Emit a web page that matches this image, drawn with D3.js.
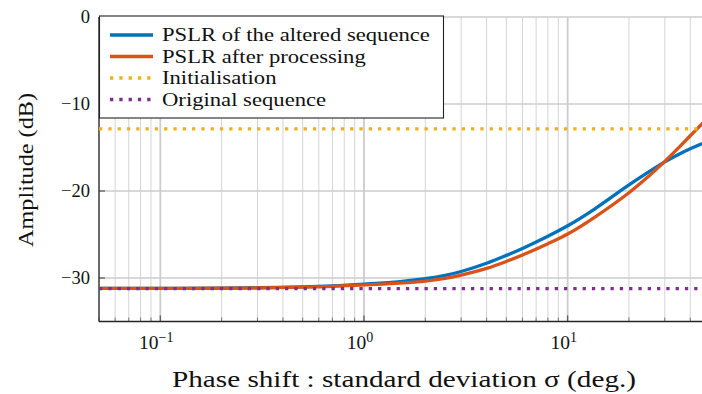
<!DOCTYPE html>
<html><head><meta charset="utf-8">
<script src="https://cdn.jsdelivr.net/npm/d3@7"></script>
<style>body{margin:0;background:#fff}svg{display:block}text{font-family:"Liberation Serif","DejaVu Serif",serif;fill:#111}</style>
</head><body><svg id="c" width="702" height="394"></svg>
<script>
const sigma = [0.05, 0.1, 0.2, 0.3, 0.5, 0.7, 1, 1.5, 2, 2.5, 3, 4, 5, 6, 8, 10, 13.5, 20, 25, 30, 35, 40, 46];
const pslrAltered = [-31.2, -31.2, -31.17, -31.12, -31.02, -30.9, -30.7, -30.42, -30.08, -29.7, -29.25, -28.3, -27.4, -26.6, -25.2, -24.0, -22.1, -19.3, -17.8, -16.65, -15.8, -15.15, -14.55];
const pslrProcessed = [-31.2, -31.2, -31.18, -31.14, -31.06, -30.97, -30.8, -30.6, -30.37, -30.05, -29.68, -28.9, -28.1, -27.35, -26.05, -24.95, -23.05, -20.2, -18.3, -16.6, -15.05, -13.65, -12.2];
const initialisation = -12.85;
const originalSeq = -31.22;
const yTicks = [0, -10, -20, -30];
const xMajor = [0.1, 1, 10];
const xMajorExp = ["−1", "0", "1"];
const legendLabels = ["PSLR of the altered sequence", "PSLR after processing", "Initialisation", "Original sequence"];
const colors = ["#0072BD", "#D95319", "#EDB120", "#7E2F8E"];

const svg = d3.select("#c");
const L = 99, R = 710, T = 17, B = 321.5;
const x = d3.scaleLog().domain([0.05, 50]).range([L, R]);
const y = d3.scaleLinear().domain([-35, 0]).range([B, T]);

const minor = [];
[0.01, 0.1, 1, 10].forEach(d => { for (let k = 2; k <= 9; k++) { const v = d * k; if (v >= 0.05 && v <= 50) minor.push(v); } });

const g = svg.append("g");
g.selectAll(".vmin").data(minor).join("line")
  .attr("x1", d => x(d)).attr("x2", d => x(d)).attr("y1", T).attr("y2", B)
  .attr("stroke", "#d4d4d4").attr("stroke-width", 1);
g.selectAll(".vmaj").data(xMajor).join("line")
  .attr("x1", d => x(d)).attr("x2", d => x(d)).attr("y1", T).attr("y2", B)
  .attr("stroke", "#cccccc").attr("stroke-width", 1.8);
g.selectAll(".hgrid").data(yTicks).join("line")
  .attr("x1", L).attr("x2", 702).attr("y1", d => y(d)).attr("y2", d => y(d))
  .attr("stroke", "#cccccc").attr("stroke-width", 1.6);

g.selectAll(".tmin").data(minor).join("line")
  .attr("x1", d => x(d)).attr("x2", d => x(d)).attr("y1", B).attr("y2", B - 4)
  .attr("stroke", "#777").attr("stroke-width", 1);
g.selectAll(".tmaj").data(xMajor).join("line")
  .attr("x1", d => x(d)).attr("x2", d => x(d)).attr("y1", B).attr("y2", B - 6)
  .attr("stroke", "#555").attr("stroke-width", 1.2);
g.selectAll(".ty").data(yTicks).join("line")
  .attr("x1", L).attr("x2", L + 6).attr("y1", d => y(d)).attr("y2", d => y(d))
  .attr("stroke", "#555").attr("stroke-width", 1.2);

g.append("line").attr("x1", L).attr("x2", 702).attr("y1", B).attr("y2", B).attr("stroke", "#262626").attr("stroke-width", 1.3);
g.append("line").attr("x1", L).attr("x2", L).attr("y1", T).attr("y2", B).attr("stroke", "#262626").attr("stroke-width", 1.3);

function stretch(sel, tx, ty, target, rot) {
  const w = sel.node().getComputedTextLength();
  const k = target / w;
  sel.attr("x", 0).attr("y", 0)
     .attr("transform", `translate(${tx},${ty})${rot ? " rotate(" + rot + ")" : ""} scale(${k},1)`);
}

g.selectAll(".yl").data(yTicks).join("text")
  .attr("x", 90).attr("y", d => y(d) + 6).attr("text-anchor", "end").attr("font-size", 18.5)
  .text(d => d === 0 ? "0" : "−" + Math.abs(d));
const xl = g.selectAll(".xl").data(xMajor).join("text")
  .attr("x", d => x(d) - 4).attr("y", 349).attr("text-anchor", "middle").attr("font-size", 19.5);
xl.append("tspan").text("10");
xl.append("tspan").attr("dy", -7.5).attr("font-size", 14).text((d, i) => xMajorExp[i]);

const title = svg.append("text").attr("text-anchor", "middle").attr("font-size", 24)
  .text("Phase shift : standard deviation σ (deg.)");
stretch(title, 404, 387, 464);
const ylab = svg.append("text").attr("text-anchor", "middle").attr("font-size", 21)
  .text("Amplitude (dB)");
stretch(ylab, 33, 170, 154, -90);

const line = d3.line().x(d => x(d[0])).y(d => y(d[1])).curve(d3.curveCatmullRom.alpha(0.5));
svg.append("clipPath").attr("id", "clip").append("rect").attr("x", L).attr("y", T - 2).attr("width", 702 - L).attr("height", B - T + 2);
const pg = svg.append("g").attr("clip-path", "url(#clip)");
pg.append("path").datum(sigma.map((s, i) => [s, pslrAltered[i]])).attr("d", line)
  .attr("fill", "none").attr("stroke", colors[0]).attr("stroke-width", 3.3);
pg.append("path").datum(sigma.map((s, i) => [s, pslrProcessed[i]])).attr("d", line)
  .attr("fill", "none").attr("stroke", colors[1]).attr("stroke-width", 3.3);
pg.append("line").attr("x1", x(0.05)).attr("x2", 702).attr("y1", y(initialisation)).attr("y2", y(initialisation))
  .attr("stroke", colors[2]).attr("stroke-width", 3.3).attr("stroke-dasharray", "3.3,6");
pg.append("line").attr("x1", x(0.05)).attr("x2", 702).attr("y1", y(originalSeq)).attr("y2", y(originalSeq))
  .attr("stroke", colors[3]).attr("stroke-width", 3.3).attr("stroke-dasharray", "3.3,6");

const lg = svg.append("g");
lg.append("rect").attr("x", 99.5).attr("y", 16).attr("width", 344).attr("height", 102)
  .attr("fill", "#fff").attr("stroke", "#222").attr("stroke-width", 1.1);
const rows = lg.selectAll(".lr").data(legendLabels).join("g")
  .attr("transform", (d, i) => `translate(0,${35 + i * 21.5})`);
rows.append("line").attr("x1", 110).attr("x2", 153).attr("y1", 0).attr("y2", 0)
  .attr("stroke", (d, i) => colors[i]).attr("stroke-width", 3.3)
  .attr("stroke-dasharray", (d, i) => i >= 2 ? "3.3,6" : null);
const lt = rows.append("text").attr("font-size", 18.5).text(d => d);
const kLeg = 268 / lt.nodes()[0].getComputedTextLength();
lt.attr("transform", `translate(162,6) scale(${kLeg},1)`);
</script></body></html>
